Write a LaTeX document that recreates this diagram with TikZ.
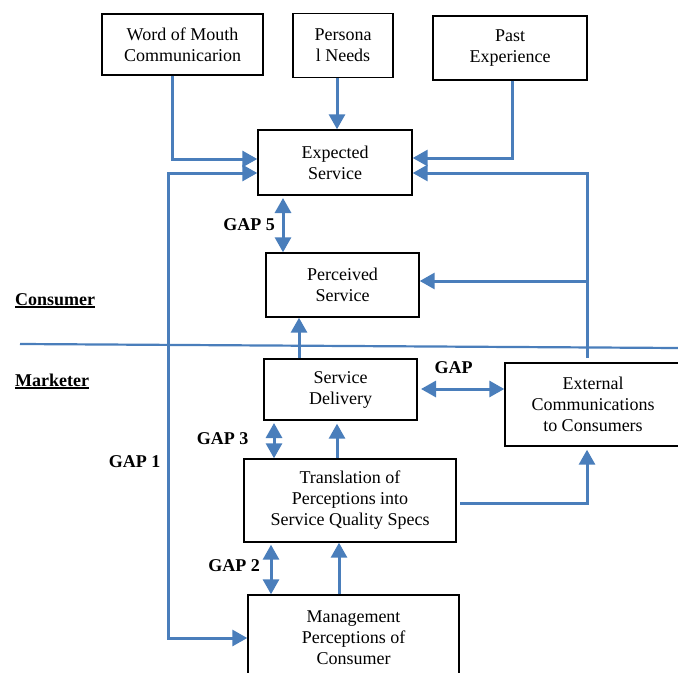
\documentclass[tikz,border=0pt]{standalone}
\usepackage{fontspec}
\setmainfont{Liberation Serif}
\usetikzlibrary{arrows.meta}
\definecolor{lblue}{RGB}{74,126,187}
\newcommand\myul[1]{\setbox0\hbox{#1}\rlap{\rule[-2.8bp]{\wd0}{1.4bp}}\box0}
\begin{document}
\begin{tikzpicture}[x=1bp,y=-1bp,
 box/.style={draw=black, line width=1.4bp, align=center, inner sep=0pt,
   font=\fontsize{18bp}{21bp}\selectfont},
 conn/.style={draw=lblue, line width=3bp, -{Triangle[length=15bp,width=16bp]}},
 dconn/.style={draw=lblue, line width=3bp, {Triangle[length=15bp,width=16bp]}-{Triangle[length=15bp,width=16bp]}},
 gap/.style={font=\fontsize{18bp}{21bp}\selectfont\bfseries, inner sep=0pt},
 side/.style={font=\fontsize{18bp}{21bp}\selectfont\bfseries, inner sep=0pt, anchor=base west}]
\useasboundingbox (0,0) rectangle (678,673);

% boxes
\node[box, minimum width=161bp, minimum height=61bp] (wom) at (182.5,44.5) {Word of Mouth\\Communicarion};
\node[box, minimum width=100bp, minimum height=64bp] (pn) at (343,45.5) {Persona\\l Needs};
\node[box, minimum width=154bp, minimum height=64bp] (pe) at (510,48) {Past\\Experience};
\node[box, minimum width=154bp, minimum height=65bp] (es) at (335,162.5) {Expected\\Service};
\node[box, minimum width=153bp, minimum height=64bp] (ps) at (342.5,285) {Perceived\\Service};
\node[box, minimum width=153bp, minimum height=61bp] (sd) at (340.5,389.5) {Service\\Delivery};
\node[box, minimum width=176bp, minimum height=83bp] (ec) at (593,404.5) {External\\Communications\\to Consumers};
\node[box, minimum width=212bp, minimum height=83bp] (tr) at (350,500.5) {Translation of\\Perceptions into\\Service Quality Specs};
\node[box, minimum width=211bp, minimum height=85bp] (mp) at (353.5,637.5) {Management\\Perceptions of\\Consumer};

% labels
\node[gap, anchor=east] (l5) at (275,225) {GAP 5};
\node[gap] (lg) at (453.5,368) {GAP};
\node[gap] (l3) at (222.5,439) {GAP 3};
\node[gap] (l1) at (134.5,462) {GAP 1};
\node[gap] (l2) at (234,566) {GAP 2};
\node[side] (cons) at (15,305) {\myul{Consumer}};
\node[side] (mark) at (15,386) {\myul{Marketer}};

% divider
\coordinate (dl) at (20,344);
\coordinate (dr) at (678,348);
\draw[lblue, line width=2.2bp] (dl) -- (dr);

% helper coordinates
\coordinate (womc) at (172,159);
\coordinate (pnc) at (337,0);
\coordinate (pec) at (512,158);
\coordinate (g1a) at (168,173);
\coordinate (g1b) at (168,638);
\coordinate (ecc) at (587,173);
\coordinate (ecb) at (587,281);
\coordinate (ect) at (587,358);
\coordinate (g5) at (283,198);
\coordinate (sdp) at (299,0);
\coordinate (gx) at (421,389);
\coordinate (g3) at (274,423);
\coordinate (t2s) at (337,0);
\coordinate (tes) at (460,503);
\coordinate (tec) at (587,503);
\coordinate (g2) at (271,0);
\coordinate (m2t) at (339,0);

% connectors
\draw[conn] (wom.south -| womc) -- (womc) -- (es.west |- womc);
\draw[conn] (pn.south -| pnc) -- (es.north -| pnc);
\draw[conn] (pe.south -| pec) -- (pec) -- (es.east |- pec);
\draw[dconn] (es.west |- g1a) -- (g1a) -- (g1b) -- (mp.west |- g1b);
\draw[conn] (ect) -- (ecc) -- (es.east |- ecc);
\draw[conn] (ecb) -- (ps.east |- ecb);
\draw[dconn] (g5) -- (ps.north -| g5);
\draw[conn] (sd.north -| sdp) -- (ps.south -| sdp);
\draw[dconn] (gx) -- (ec.west |- gx);
\draw[dconn] (g3) -- (tr.north -| g3);
\draw[conn, shorten >=3bp] (tr.north -| t2s) -- (sd.south -| t2s);
\draw[conn, shorten >=3bp] (tes) -- (tec) -- (ec.south -| tec);
\draw[dconn, shorten <=2bp] (tr.south -| g2) -- (mp.north -| g2);
\draw[conn] (mp.north -| m2t) -- (tr.south -| m2t);
\end{tikzpicture}
\end{document}
